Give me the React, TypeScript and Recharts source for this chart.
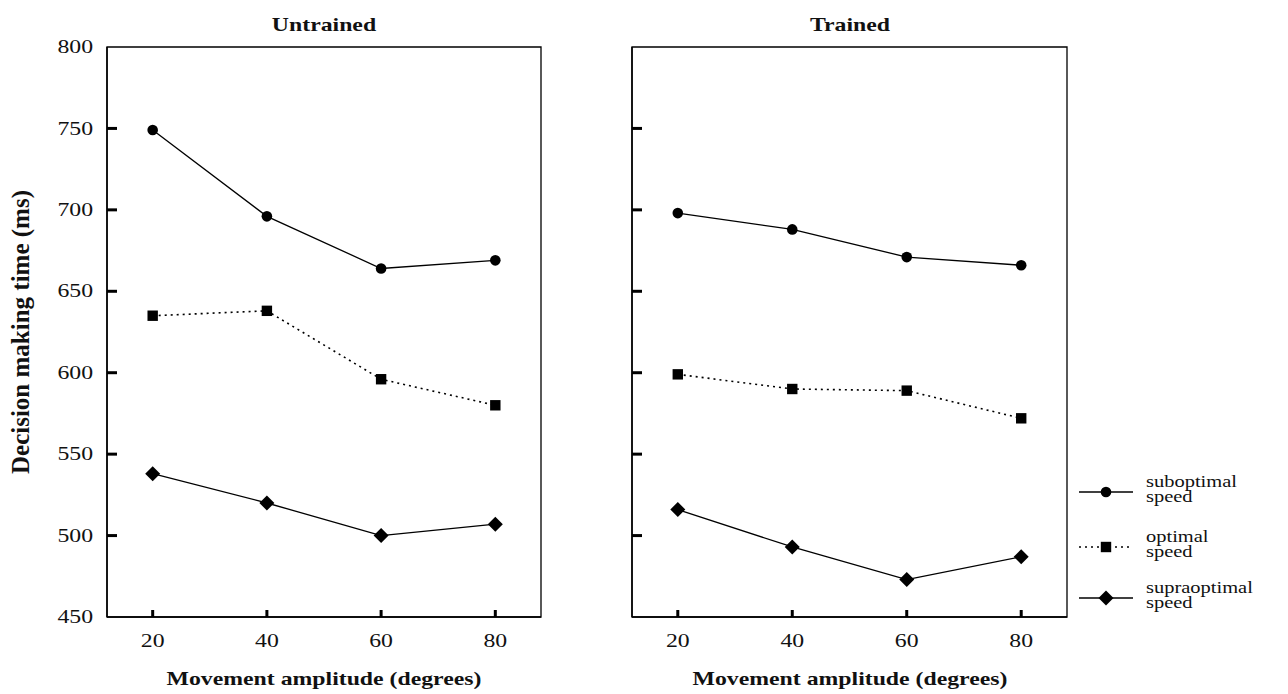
import React from 'react';
import { LineChart, Line, XAxis, YAxis, ReferenceArea } from 'recharts';

const amplitudes = [20, 40, 60, 80];
const yTicks = [450, 500, 550, 600, 650, 700, 750, 800];

const untrainedSuboptimal = [749, 696, 664, 669];
const untrainedOptimal = [635, 638, 596, 580];
const untrainedSupraoptimal = [538, 520, 500, 507];

const trainedSuboptimal = [698, 688, 671, 666];
const trainedOptimal = [599, 590, 589, 572];
const trainedSupraoptimal = [516, 493, 473, 487];

const seriesKeys = ['suboptimal', 'optimal', 'supraoptimal'];
const seriesLabels = [
    ['suboptimal', 'speed'],
    ['optimal', 'speed'],
    ['supraoptimal', 'speed'],
];
const seriesShapes = ['circle', 'square', 'diamond'];
const seriesDash = ['', '2 4', ''];

const FONT = '"Liberation Serif", "Times New Roman", serif';
const X_DOMAIN = [12, 88];
const Y_DOMAIN = [450, 800];

function buildRows(sub: number[], opt: number[], supra: number[]) {
    return amplitudes.map((amp, i) => ({
        amp,
        suboptimal: sub[i],
        optimal: opt[i],
        supraoptimal: supra[i],
    }));
}

const untrainedData = buildRows(untrainedSuboptimal, untrainedOptimal, untrainedSupraoptimal);
const trainedData = buildRows(trainedSuboptimal, trainedOptimal, trainedSupraoptimal);

function Marker({ cx, cy, shape }: any) {
    if (cx == null || cy == null) return null;
    if (shape === 'circle') return <circle cx={cx} cy={cy} r={5.3} fill="#000" />;
    if (shape === 'square') return <rect x={cx - 5.2} y={cy - 5.2} width={10.4} height={10.4} fill="#000" />;
    const s = 7.5;
    return (
        <polygon
            points={`${cx},${cy - s} ${cx + s},${cy} ${cx},${cy + s} ${cx - s},${cy}`}
            fill="#000"
        />
    );
}

function XTick({ x, y, payload }: any) {
    return (
        <g>
            <line x1={x} x2={x} y1={y} y2={y - 7} stroke="#000" strokeWidth={3} />
            <text
                transform={`translate(${x},${y + 24}) scale(1.25,1)`}
                textAnchor="middle"
                dominantBaseline="central"
                fontFamily={FONT}
                fontSize={19}
                fill="#111"
            >
                {payload.value}
            </text>
        </g>
    );
}

function YTick({ x, y, payload, showLabel }: any) {
    const v = payload.value;
    const inner = v !== 450 && v !== 800;
    return (
        <g>
            {inner && <line x1={x} x2={x + 10} y1={y} y2={y} stroke="#000" strokeWidth={3} />}
            {showLabel && (
                <text
                    transform={`translate(${x - 14},${y}) scale(1.25,1)`}
                    textAnchor="end"
                    dominantBaseline="central"
                    fontFamily={FONT}
                    fontSize={19}
                    fill="#111"
                >
                    {v}
                </text>
            )}
        </g>
    );
}

function Panel({ data, left, yAxisWidth, marginRight, showLabels }: any) {
    return (
        <div style={{ position: 'absolute', left, top: 0 }}>
            <LineChart
                width={600}
                height={694}
                data={data}
                margin={{ top: 47, right: marginRight, bottom: 17, left: 0 }}
            >
                <XAxis
                    dataKey="amp"
                    type="number"
                    domain={X_DOMAIN}
                    ticks={amplitudes}
                    interval={0}
                    height={60}
                    tickSize={0}
                    tickMargin={0}
                    tickLine={false}
                    axisLine={{ stroke: '#000', strokeWidth: 1.5 }}
                    tick={<XTick />}
                />
                <YAxis
                    type="number"
                    domain={Y_DOMAIN}
                    ticks={yTicks}
                    interval={0}
                    width={yAxisWidth}
                    tickSize={0}
                    tickMargin={0}
                    tickLine={false}
                    axisLine={{ stroke: '#000', strokeWidth: 1.5 }}
                    tick={<YTick showLabel={showLabels} />}
                />
                <ReferenceArea
                    x1={X_DOMAIN[0]}
                    x2={X_DOMAIN[1]}
                    y1={Y_DOMAIN[0]}
                    y2={Y_DOMAIN[1]}
                    fill="none"
                    stroke="#000"
                    strokeWidth={1.3}
                />
                {seriesKeys.map((key, i) => (
                    <Line
                        key={key}
                        dataKey={key}
                        name={seriesLabels[i].join(' ')}
                        stroke="#000"
                        strokeWidth={seriesDash[i] ? 1.6 : 1.3}
                        strokeDasharray={seriesDash[i] || undefined}
                        dot={(p: any) => <Marker key={`${key}-${p.index}`} cx={p.cx} cy={p.cy} shape={seriesShapes[i]} />}
                        activeDot={false}
                        isAnimationActive={false}
                    />
                ))}
            </LineChart>
        </div>
    );
}

function SpeedLegend() {
    const rowY = [37, 92, 143];
    return (
        <svg style={{ position: 'absolute', left: 1070, top: 455 }} width={218} height={180}>
            {seriesKeys.map((key, i) => (
                <g key={key}>
                    <line
                        x1={9}
                        x2={63}
                        y1={rowY[i]}
                        y2={rowY[i]}
                        stroke="#000"
                        strokeWidth={seriesDash[i] ? 1.6 : 1.3}
                        strokeDasharray={seriesDash[i] || undefined}
                    />
                    <Marker cx={36} cy={rowY[i]} shape={seriesShapes[i]} />
                    {seriesLabels[i].map((t, j) => (
                        <text
                            key={t + j}
                            transform={`translate(76,${rowY[i] - 5 + j * 15}) scale(1.28,1)`}
                            fontFamily={FONT}
                            fontSize={16}
                            fill="#111"
                        >
                            {t}
                        </text>
                    ))}
                </g>
            ))}
        </svg>
    );
}

const boldText: React.CSSProperties = {
    position: 'absolute',
    fontFamily: FONT,
    fontWeight: 'bold',
    fontSize: 19,
    color: '#111',
    whiteSpace: 'nowrap',
    lineHeight: 1,
};

function Title({ text, cx, cy }: any) {
    return (
        <div style={{ ...boldText, left: cx, top: cy, transform: 'translate(-50%, -50%) scaleX(1.25)' }}>
            {text}
        </div>
    );
}

export default function App() {
    return (
        <div style={{ position: 'absolute', left: 0, top: 0, width: 1288, height: 694, background: '#fff' }}>
            <Panel data={untrainedData} left={0} yAxisWidth={107} marginRight={59} showLabels />
            <Panel data={trainedData} left={600} yAxisWidth={32} marginRight={133} showLabels={false} />
            <Title text="Untrained" cx={324} cy={24} />
            <Title text="Trained" cx={850} cy={24} />
            <Title text="Movement amplitude (degrees)" cx={324} cy={678} />
            <Title text="Movement amplitude (degrees)" cx={850} cy={678} />
            <div
                style={{
                    ...boldText,
                    fontSize: 25,
                    left: 20,
                    top: 332,
                    transform: 'translate(-50%, -50%) rotate(-90deg)',
                }}
            >
                Decision making time (ms)
            </div>
            <SpeedLegend />
        </div>
    );
}
